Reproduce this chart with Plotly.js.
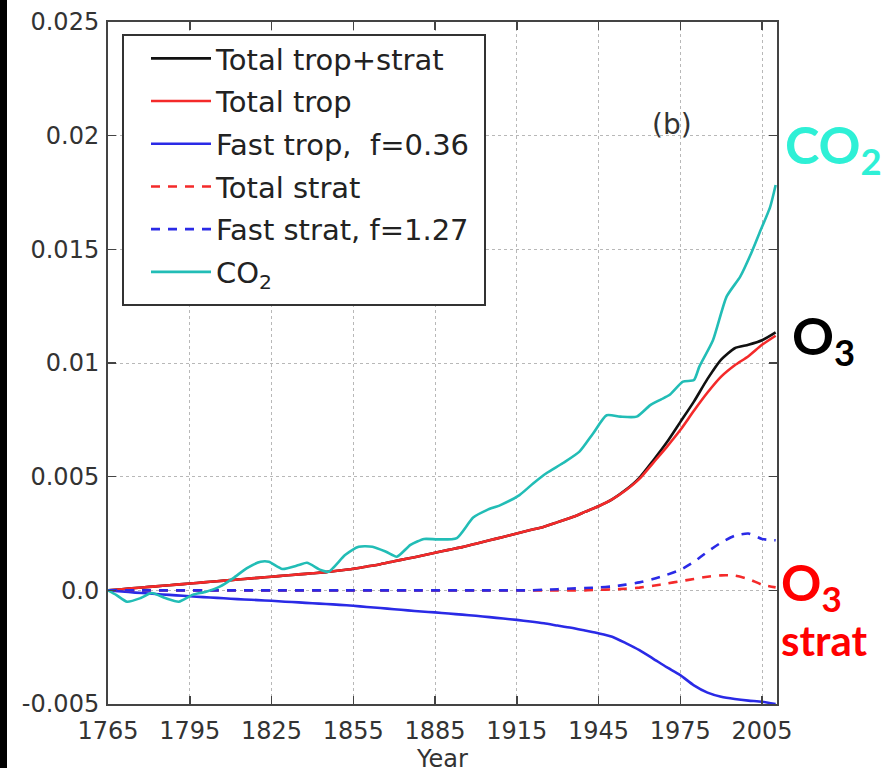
<!DOCTYPE html>
<html>
<head>
<meta charset="utf-8">
<script src="https://cdn.plot.ly/plotly-3.0.1.min.js"></script>
<style>
  html, body { margin: 0; padding: 0; background: #ffffff; overflow: hidden; width: 882px; height: 768px; }
  #chart { width: 882px; height: 790px; }
  #edge { position: absolute; left: 0; top: 0; width: 7px; height: 768px; background: #000; z-index: 10; }
</style>
</head>
<body>
<div id="edge"></div>
<div id="chart"></div>
<script>
// Years on a 5-year grid for the ozone series
const years = [1765,1770,1775,1780,1785,1790,1795,1800,1805,1810,1815,1820,1825,1830,1835,1840,1845,1850,1855,1860,
  1865,1870,1875,1880,1885,1890,1895,1900,1905,1910,1915,1920,1925,1930,1935,1940,1945,1950,1955,1960,
  1965,1970,1975,1980,1985,1990,1995,2000,2005,2010];

// Total tropospheric + stratospheric ozone
const totalTropStrat = [0,0.00005,0.0001,0.00015,0.0002,0.00025,0.0003,0.00035,0.0004,0.00045,0.0005,0.00055,0.0006,0.00065,0.0007,0.00075,0.0008,0.00087,0.00095,0.00105,
  0.00115,0.00128,0.0014,0.00152,0.00165,0.00178,0.0019,0.00205,0.0022,0.00235,0.0025,0.00265,0.0028,0.003,0.0032,0.00345,0.0037,0.004,0.00442,0.00495,
  0.0057,0.0065,0.0074,0.0083,0.0093,0.01015,0.01065,0.0108,0.0110,0.01135];

// Total tropospheric ozone
const totalTrop = [0,0.00005,0.0001,0.00015,0.0002,0.00025,0.0003,0.00035,0.0004,0.00045,0.0005,0.00055,0.0006,0.00065,0.0007,0.00075,0.0008,0.00087,0.00095,0.00105,
  0.00115,0.00128,0.0014,0.00152,0.00165,0.00178,0.0019,0.00205,0.0022,0.00235,0.0025,0.00265,0.0028,0.003,0.0032,0.00345,0.0037,0.004,0.0044,0.0049,
  0.0056,0.0063,0.00705,0.0079,0.0087,0.0094,0.0099,0.0103,0.0108,0.0112];

// Fast tropospheric response, f=0.36
const fastTrop = [0,-0.00005,-0.0001,-0.00014,-0.00018,-0.00022,-0.00026,-0.0003,-0.00033,-0.00037,-0.0004,-0.00043,-0.00046,-0.0005,-0.00053,-0.00057,-0.0006,-0.00064,-0.00068,-0.00073,
  -0.00078,-0.00083,-0.00088,-0.00093,-0.00097,-0.00102,-0.00107,-0.00112,-0.00118,-0.00124,-0.0013,-0.00137,-0.00145,-0.00155,-0.00165,-0.00177,-0.00189,-0.00204,-0.00232,-0.00263,
  -0.003,-0.00338,-0.00373,-0.00418,-0.0045,-0.00468,-0.00478,-0.00485,-0.0049,-0.005];

// Total stratospheric ozone
const totalStrat = [0,0,0,0,0,0,0,0,0,0,0,0,0,0,0,0,0,0,0,0,
  0,0,0,0,0,0,0,0,0,0,0,0,0,0,0,0,0.00002,0.00004,0.00007,0.00012,
  0.0002,0.0003,0.0004,0.0005,0.0006,0.00066,0.00065,0.0005,0.00025,0.00013];

// Fast stratospheric response, f=1.27
const fastStrat = [0,0,0,0,0,0,0,0,0,0,0,0,0,0,0,0,0,0,0,0,
  0,0,0,0,0,0,0,0,0,0,0,0,0.00003,0.00005,0.00008,0.0001,0.00013,0.00017,0.00025,0.00035,
  0.0005,0.00068,0.0009,0.00125,0.0017,0.0021,0.0024,0.0025,0.00226,0.0022];

// CO2 series (finer sampling to keep its wiggles)
const co2Years = [1765,1768,1772,1777,1781,1786,1791,1796,1801,1806,1811,1816,1821,1824,1829,1835,1838,1843,1846,1852,
  1857,1862,1867,1871,1876,1881,1886,1893,1899,1904,1909,1916,1921,1926,1932,1938,1943,1948,1953,1959,
  1964,1968,1971,1976,1980,1982,1987,1992,1997,2001,2004,2008,2010];
const co2Vals = [0,-0.0002,-0.0005,-0.00034,-0.00012,-0.00034,-0.0005,-0.0002,-0.00006,0.00016,0.00054,0.00098,0.00126,0.00126,0.00094,0.00111,0.00121,0.0009,0.00082,0.00155,
  0.00192,0.00192,0.0017,0.00148,0.002,0.00226,0.00224,0.0023,0.0032,0.00353,0.00375,0.00419,0.0047,0.00516,0.0056,0.0061,0.0069,0.0077,0.00764,0.00764,
  0.00815,0.0084,0.00859,0.00918,0.00925,0.00984,0.0110,0.01292,0.0138,0.01482,0.0157,0.01687,0.01783];

const xTicks = [1765,1795,1825,1855,1885,1915,1945,1975,2005];
const yTicks = [-0.005,0,0.005,0.01,0.015,0.02,0.025];
const yTickText = ['-0.005','0.0','0.005','0.01','0.015','0.02','0.025'];

const RED = '#f42a2a', BLUE = '#2a2ae6', CYAN = '#22bdb6';
const W = 2.6;

function series(name, x, y, color, dash, group) {
  return {
    type: 'scatter', mode: 'lines', name: name, x: x, y: y, legendgroup: group,
    line: { color: color, width: W, dash: dash, shape: 'spline', smoothing: 0.6 }
  };
}

const traces = [
  series('Total trop+strat', years, totalTropStrat, '#111111', 'solid', 'g1'),
  series('Total trop', years, totalTrop, RED, 'solid', 'g2'),
  series('Fast trop,  f=0.36', years, fastTrop, BLUE, 'solid', 'g3'),
  series('Total strat', years, totalStrat, RED, '9px,8px', 'g4'),
  series('Fast strat, f=1.27', years, fastStrat, BLUE, '9px,8px', 'g5'),
  series('CO<sub>2</sub>', co2Years, co2Vals, CYAN, 'solid', 'g6')
];

// Figure is a little taller than the window so the axis title sits at the bottom edge
const FIG_W = 882, FIG_H = 790;
const tickFont = { family: 'DejaVu Sans', size: 24, color: '#333333' };
const L = 108, R = 777, T = 22, B = 704;
const pw = R - L, ph = B - T;
const px = v => (v - L) / pw;
const py = v => (B - v) / ph;

const axisCommon = {
  showline: true, linecolor: '#444444', linewidth: 2, mirror: 'allticks',
  ticks: 'inside', ticklen: 8, tickwidth: 1.5, tickcolor: '#444444',
  showgrid: true, gridcolor: '#b8b8b8', gridwidth: 1, griddash: 'dot',
  zeroline: false, tickfont: tickFont
};

const layout = {
  width: FIG_W, height: FIG_H,
  margin: { l: L, r: FIG_W - R, t: T, b: FIG_H - B },
  paper_bgcolor: '#ffffff', plot_bgcolor: '#ffffff',
  showlegend: true,
  legend: {
    x: px(146), y: py(33), xanchor: 'left', yanchor: 'top',
    bgcolor: 'rgba(0,0,0,0)', borderwidth: 0,
    font: { family: 'DejaVu Sans', size: 29, color: '#222222' },
    tracegroupgap: 2, itemwidth: 60, traceorder: 'grouped'
  },
  xaxis: Object.assign({}, axisCommon, {
    range: [1765, 2010.5], tickvals: xTicks, ticktext: xTicks.map(String),
    ticklabelstandoff: 4,
    title: { text: 'Year', font: { family: 'DejaVu Sans', size: 24, color: '#333333' }, standoff: 3 }
  }),
  yaxis: Object.assign({}, axisCommon, {
    range: [-0.005, 0.025], tickvals: yTicks, ticktext: yTickText, ticklabelstandoff: 2
  }),
  shapes: [
    { type: 'rect', xref: 'paper', yref: 'paper', x0: px(123), x1: px(485), y0: py(305), y1: py(35),
      fillcolor: '#ffffff', line: { color: '#333333', width: 2 }, layer: 'above' }
  ],
  annotations: [
    { text: '(b)', xref: 'x', yref: 'y', x: 1972, y: 0.0205, showarrow: false,
      font: { family: 'DejaVu Sans', size: 28, color: '#333333' } },
    { text: '<b>CO<sub>2</sub></b>', xref: 'paper', yref: 'paper', x: px(783), y: py(148),
      xanchor: 'left', yanchor: 'middle', showarrow: false,
      font: { family: 'Lato', size: 52, color: '#2ef0d6' } },
    { text: '<b>O<sub>3</sub></b>', xref: 'paper', yref: 'paper', x: px(790), y: py(339),
      xanchor: 'left', yanchor: 'middle', showarrow: false,
      font: { family: 'Lato', size: 52, color: '#000000' } },
    { text: '<b>O<sub>3</sub></b>', xref: 'paper', yref: 'paper', x: px(779), y: py(585),
      xanchor: 'left', yanchor: 'middle', showarrow: false,
      font: { family: 'Lato', size: 50, color: '#ff0000' } },
    { text: '<b>strat</b>', xref: 'paper', yref: 'paper', x: px(779), y: py(640),
      xanchor: 'left', yanchor: 'middle', showarrow: false,
      font: { family: 'Lato', size: 42, color: '#ff0000' } }
  ]
};

Plotly.newPlot('chart', traces, layout, { staticPlot: true, displayModeBar: false });
</script>
</body>
</html>
